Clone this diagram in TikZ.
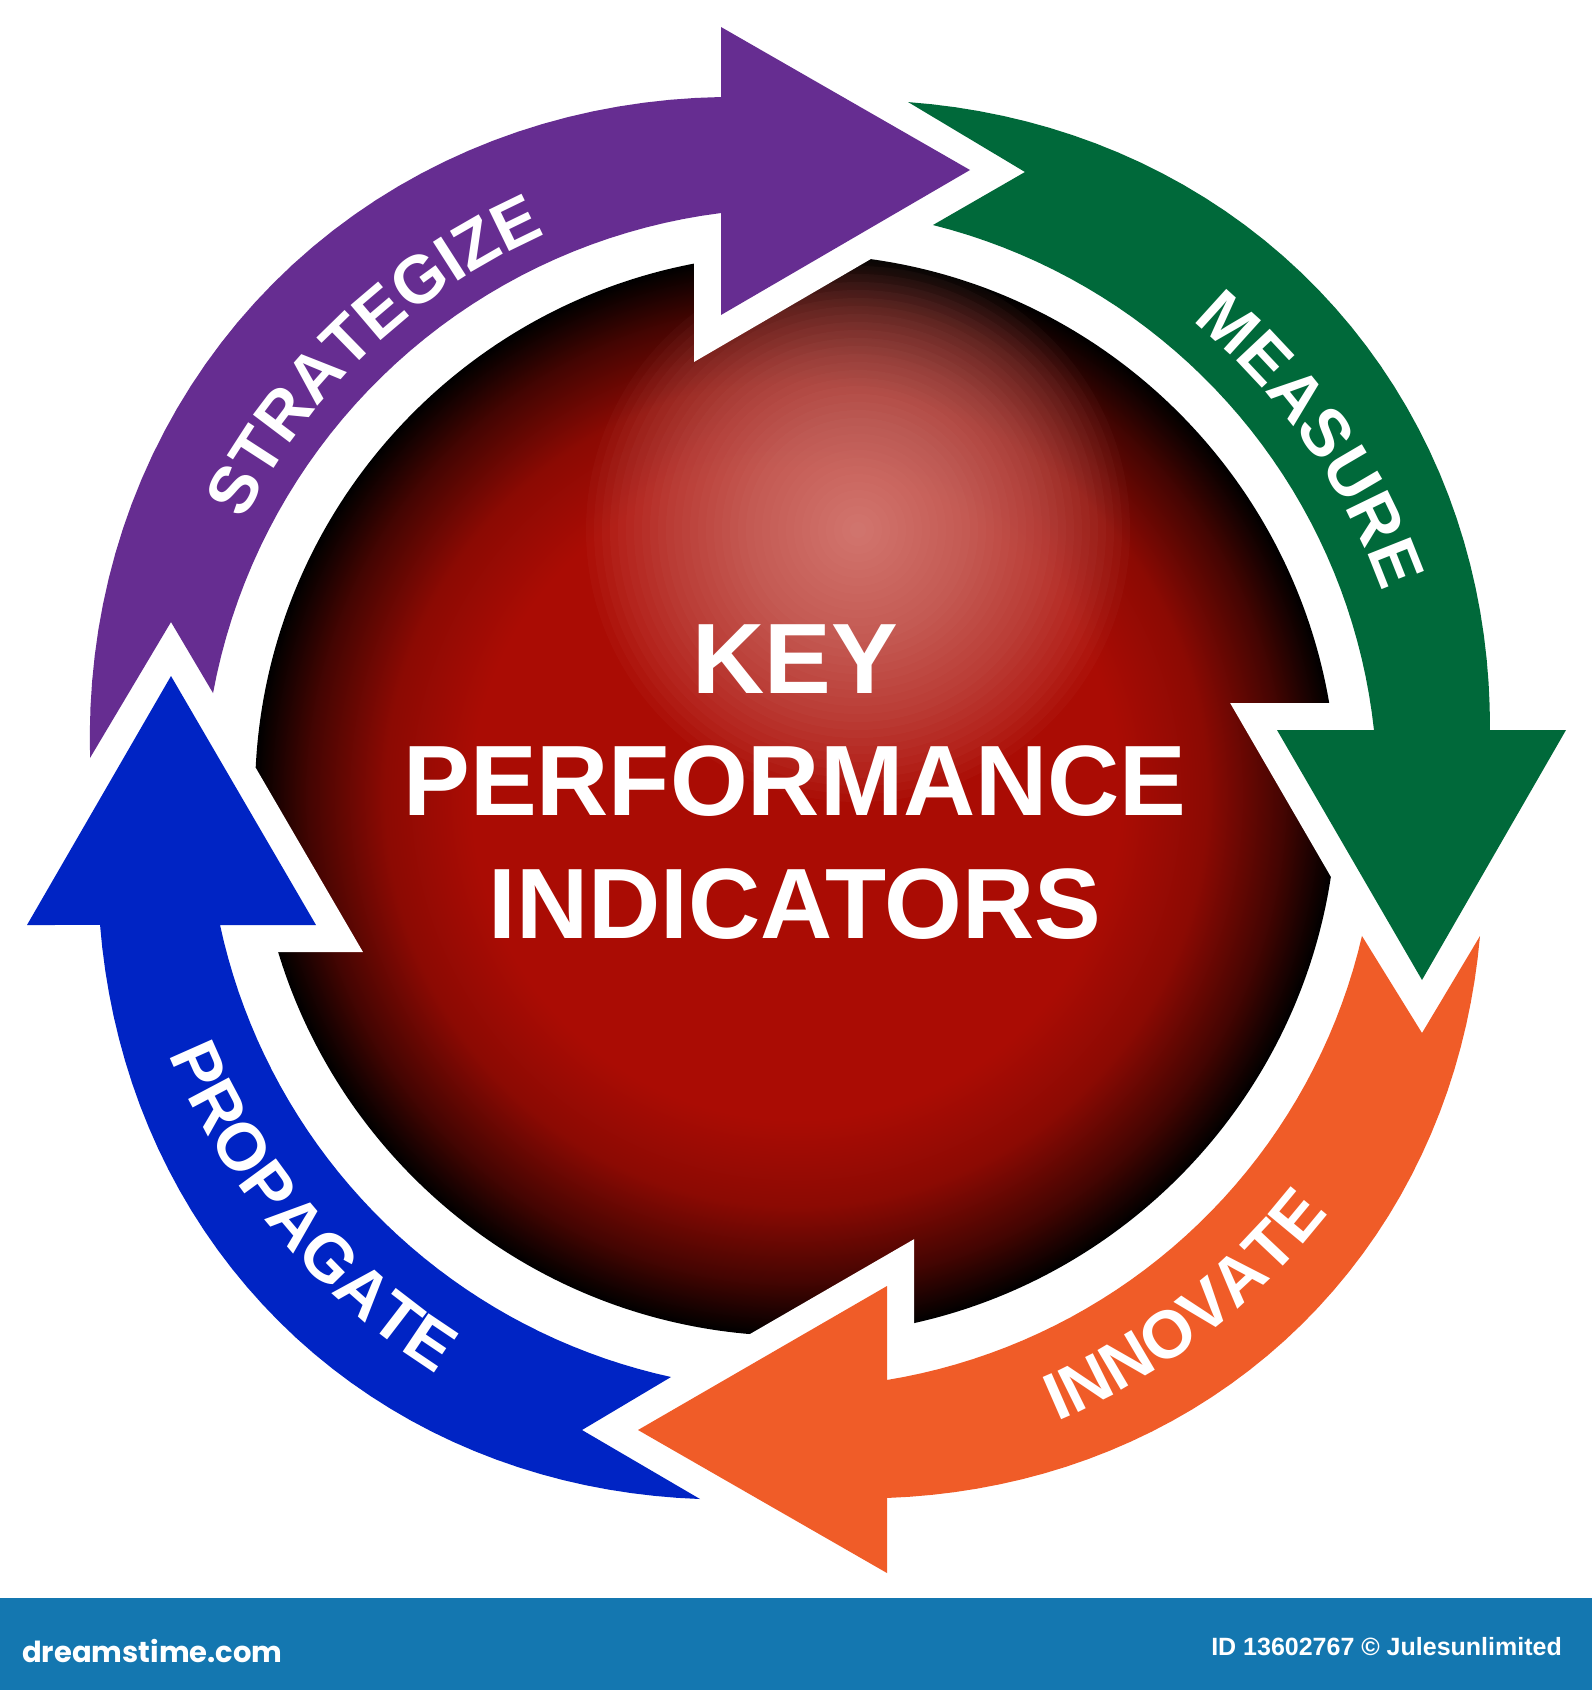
\documentclass[tikz,border=0pt]{standalone}
\usepackage{fontspec}
\setmainfont{Liberation Sans}
\newfontfamily\sitefont{Poppins}
\usetikzlibrary{decorations.text}

\definecolor{kpipurple}{RGB}{102,45,145}
\definecolor{kpigreen}{RGB}{0,105,58}
\definecolor{kpiorange}{RGB}{240,92,40}
\definecolor{kpiblue}{RGB}{0,36,196}
\definecolor{kpired}{RGB}{170,12,4}
\definecolor{kpipink}{RGB}{236,172,166}
\definecolor{barblue}{RGB}{20,119,176}

\pgfdeclareradialshading{kpiball}{\pgfpoint{0bp}{0bp}}{%
  color(0bp)=(kpired); color(15bp)=(kpired); color(19bp)=(kpired!82!black);
  color(22.5bp)=(kpired!40!black); color(25bp)=(black); color(50bp)=(black)}

\newcommand\labelfont{\fontsize{67pt}{70pt}\selectfont\bfseries}

% arrow outlines: tail corner, outer rim, head, inner rim, notch
\newcommand\purplearrow[1]{\path[#1] (90,758)
  -- plot[domain=183.40:263.91] ({rx(\ang,183.40,263.91,707.2,707.0,28)},{ry(\ang,183.40,263.91,707.2,707.0,28)})
  -- (721,27) -- (970,170) -- (721,315) -- (721,213)
  -- plot[domain=262.72:190.40] ({rx(\ang,262.72,190.40,591.8,592.7,0)},{ry(\ang,262.72,190.40,591.8,592.7,0)})
  -- (213,693) -- (171,622) -- cycle;}
\newcommand\greenarrow[1]{\path[#1] (908,102)
  -- plot[domain=279.12:354.24] ({rx(\ang,279.12,354.24,706.9,697.5,28)},{ry(\ang,279.12,354.24,706.9,697.5,28)})
  -- (1566,730) -- (1422,980) -- (1277,730) -- (1374,730)
  -- plot[domain=353.09:283.40] ({rx(\ang,353.09,283.40,582.2,591.1,0)},{ry(\ang,353.09,283.40,582.2,591.1,0)})
  -- (933,225) -- (1025,172) -- cycle;}
\newcommand\orangearrow[1]{\path[#1] (1480,936)
  -- plot[domain=11.25:82.57] ({rx(\ang,11.25,82.57,697.4,703.9,28)},{ry(\ang,11.25,82.57,697.4,703.9,28)})
  -- (887,1573) -- (638,1430) -- (887,1286) -- (887,1380)
  -- plot[domain=81.08:13.51] ({rx(\ang,81.08,13.51,587.1,582.1,0)},{ry(\ang,81.08,13.51,587.1,582.1,0)})
  -- (1362,936) -- (1422,1033) -- cycle;}
\newcommand\bluearrow[1]{\path[#1] (700,1499)
  -- plot[domain=97.82:169.82] ({rx(\ang,97.82,169.82,705.6,707.1,28)},{ry(\ang,97.82,169.82,705.6,707.1,28)})
  -- (27,925) -- (171,676) -- (316,925) -- (220,925)
  -- plot[domain=167.76:102.22] ({rx(\ang,167.76,102.22,589.4,590.4,0)},{ry(\ang,167.76,102.22,589.4,590.4,0)})
  -- (671,1377) -- (582,1430) -- cycle;}

\begin{document}
\begin{tikzpicture}[x=1pt, y=-1pt, samples=40, variable=\ang,
  declare function={
    rx(\ww,\wa,\wb,\ra,\rb,\hb)=796+(\ra+(\rb-\ra)*(\ww-\wa)/(\wb-\wa)+\hb*sin(180*(\ww-\wa)/(\wb-\wa)))*cos(\ww);
    ry(\ww,\wa,\wb,\ra,\rb,\hb)=800+(\ra+(\rb-\ra)*(\ww-\wa)/(\wb-\wa)+\hb*sin(180*(\ww-\wa)/(\wb-\wa)))*sin(\ww);
  },
  halo/.style={draw=white, line width=54pt, line join=miter, miter limit=2.5},
  kpititle/.style={text=white, inner sep=0pt, anchor=base,
    font=\fontsize{100pt}{110pt}\selectfont\bfseries}]

\useasboundingbox (0,0) rectangle (1592,1690);
\fill[white] (0,0) rectangle (1592,1690);

% the ball
\shade[shading=kpiball] (796,795) circle[radius=541];
\begin{scope}
  \clip (796,795) circle[radius=541];
  \foreach \r in {8,16,...,272}
    \fill[kpipink, opacity=0.036] (858,530) circle[radius=\r];
\end{scope}

% white rims first, then the arrows
\purplearrow{halo}
\greenarrow{halo}
\orangearrow{halo}
\bluearrow{halo}
\purplearrow{fill=kpipurple}
\greenarrow{fill=kpigreen}
\orangearrow{fill=kpiorange}
\bluearrow{fill=kpiblue}

% labels on the arrows
\path[decorate, decoration={text along path, text align=center,
  text={|\color{white}\labelfont|STRATEGIZE}}]
  (796,800) ++(196:619) arc[start angle=196, end angle=257, radius=619];
\path[decorate, decoration={text along path, text align=center,
  text={|\color{white}\labelfont|MEASURE}}]
  (796,800) ++(295:622) arc[start angle=295, end angle=355, radius=622];
\path[decorate, decoration={text along path, text align=center,
  text={|\color{white}\labelfont|INNOVATE}}]
  (796,800) ++(82:674) arc[start angle=82, end angle=23, radius=674];
\path[decorate, decoration={text along path, text align=center,
  text={|\color{white}\labelfont|PROPAGATE}}]
  (796,800) ++(170:677) arc[start angle=170, end angle=110, radius=677];

\node[kpititle] (key) at (795,693) {KEY};
\node[kpititle] (perf) at (795,815) {PERFORMANCE};
\node[kpititle] (ind) at (795,938) {INDICATORS};

% stock bar
\fill[barblue] (0,1598) rectangle (1592,1690);
\node[anchor=base west, inner sep=0pt, text=white,
  font=\sitefont\fontsize{29pt}{34pt}\selectfont\bfseries] (site) at (22,1662) {dreamstime.com};
\node[anchor=base east, inner sep=0pt, text=white,
  font=\fontsize{25pt}{28pt}\selectfont\bfseries] (credit) at (1562,1655) {ID 13602767 © Julesunlimited};

\end{tikzpicture}
\end{document}
